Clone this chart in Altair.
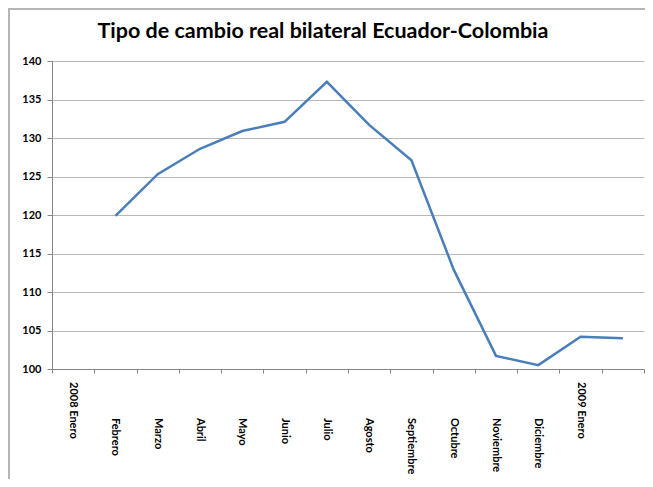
import altair as alt
import pandas as pd

months = ["2008 Enero", "Febrero", "Marzo", "Abril", "Mayo", "Junio", "Julio",
          "Agosto", "Septiembre", "Octubre", "Noviembre", "Diciembre",
          "2009 Enero", "2009 Febrero"]
tick_labels = ["2008 Enero", "Febrero", "Marzo", "Abril", "Mayo", "Junio", "Julio",
               "Agosto", "Septiembre", "Octubre", "Noviembre", "Diciembre",
               "2009 Enero", ""]
values = [None, 119.9, 125.3, 128.6, 130.9, 132.1, 137.3,
          131.7, 127.1, 112.9, 101.7, 100.5, 104.2, 104.0]
y_ticks = [100, 105, 110, 115, 120, 125, 130, 135, 140]

df = pd.DataFrame({"mes": months, "valor": values, "etiqueta": tick_labels})

FONT = "Lato"
x_enc = alt.X("mes:N", sort=months, title=None,
              scale=alt.Scale(type="band", paddingInner=0, paddingOuter=0),
              axis=alt.Axis(labels=False, tickSize=4, tickBand="extent",
                            domainColor="#868686", tickColor="#868686", grid=False))

line = alt.Chart(df).mark_line(color="#4a7ebb", strokeWidth=2.5).encode(
    x=x_enc,
    y=alt.Y("valor:Q", title=None,
            scale=alt.Scale(domain=[100, 140], nice=False, zero=False),
            axis=alt.Axis(values=y_ticks, tickSize=5, labelPadding=6,
                          labelFont=FONT, labelFontSize=11, labelFontWeight="bold",
                          labelColor="black", domainColor="#868686",
                          tickColor="#868686", gridColor="#b8b8b8", gridWidth=1.2)),
)

text_style = dict(angle=90, align="left", baseline="middle", font=FONT,
                  fontSize=11, fontWeight="bold", color="black")

year_labels = alt.Chart(df).transform_filter(
    "indexof(datum.etiqueta, '20') == 0"
).mark_text(**text_style).encode(
    x=alt.X("mes:N", sort=months), y=alt.value(321), text="etiqueta:N")

month_labels = alt.Chart(df).transform_filter(
    "indexof(datum.etiqueta, '20') != 0 && datum.etiqueta != ''"
).mark_text(**text_style).encode(
    x=alt.X("mes:N", sort=months), y=alt.value(357), text="etiqueta:N")

frame_left = alt.Chart(df).mark_rule(color="#b5b5b5", strokeWidth=2).encode(
    x=alt.value(-43), y=alt.value(-52.5), y2=alt.value(440))
frame_top = alt.Chart(df).mark_rule(color="#b5b5b5", strokeWidth=2).encode(
    x=alt.value(-43), x2=alt.value(600), y=alt.value(-52.5))

chart = alt.layer(frame_left, frame_top, line, year_labels, month_labels).properties(
    width=592, height=308,
    padding={"left": 44, "top": 53, "right": 1, "bottom": 110},
    autosize=alt.AutoSizeParams(type="none"),
    title=alt.TitleParams("Tipo de cambio real bilateral Ecuador-Colombia",
                          font=FONT, fontSize=21.5, fontWeight="bold", color="black",
                          anchor="middle", dx=-25, offset=-51.5, baseline="alphabetic"),
).configure_view(stroke=None)

chart.save("out.html", embed_options={"renderer": "svg", "actions": False})
